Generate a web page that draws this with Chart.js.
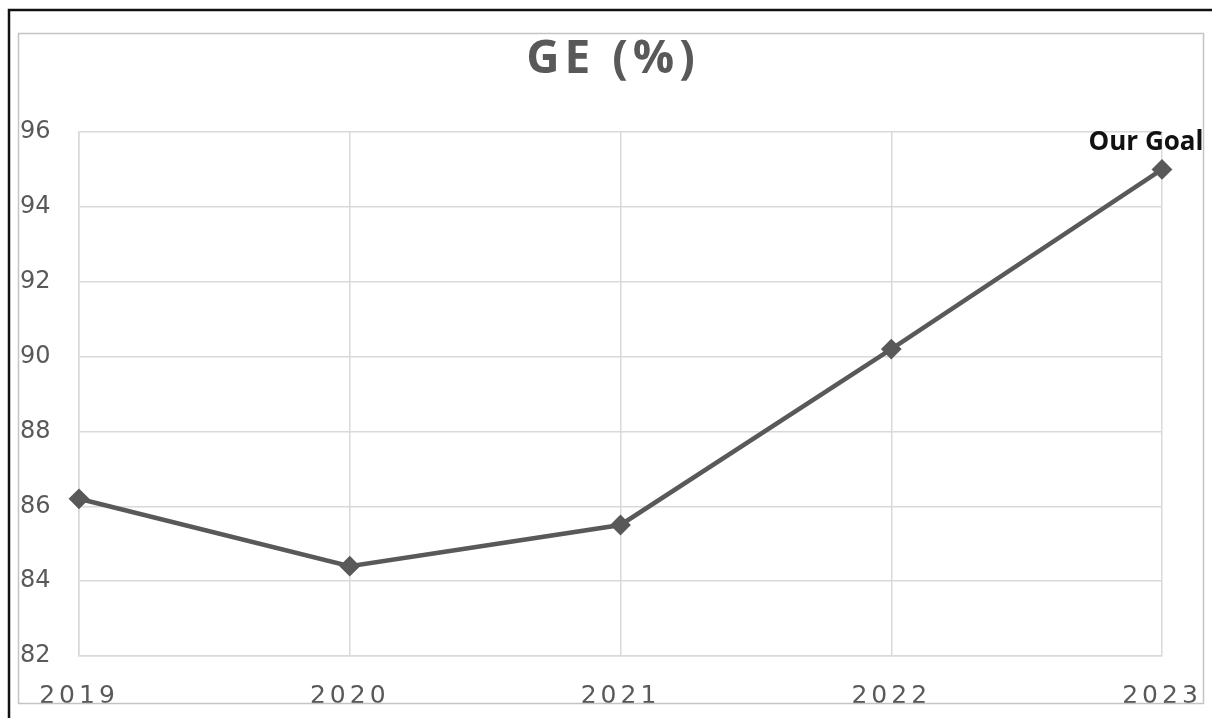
<!DOCTYPE html>
<html>
<head>
<meta charset="utf-8">
<title>GE (%)</title>
<script src="https://cdn.jsdelivr.net/npm/chart.js@4/dist/chart.umd.min.js"></script>
<style>
  html, body { margin: 0; padding: 0; background: #fff; }
  #wrap { position: relative; width: 1212px; height: 718px; }
</style>
</head>
<body>
<div id="wrap"><canvas id="geChart" width="1212" height="718"></canvas></div>
<script>
// ===== données =====
const years = ["2019", "2020", "2021", "2022", "2023"];
const geValues = [86.2, 84.4, 85.5, 90.2, 95.0];
const goalLabel = "Our Goal";
const chartTitle = "GE (%)";
const yMin = 82, yMax = 96, yStep = 2;

const GRAY = "#595959";
const GRID = "#d9d9d9";

// cadre, titre et étiquette "Our Goal"
const decorPlugin = {
  id: "decor",
  beforeDraw(chart) {
    chart.ctx.letterSpacing = "0px";
  },
  // les étiquettes de l'axe x (ticks.z: 1) sont dessinées après les données -> espacement
  afterDatasetsDraw(chart) {
    chart.ctx.letterSpacing = "4px";
  },
  afterDraw(chart) {
    const ctx = chart.ctx;
    ctx.letterSpacing = "0px";
    ctx.save();

    // bordure grise intérieure
    ctx.strokeStyle = "#c4c4c4";
    ctx.lineWidth = 1.5;
    ctx.strokeRect(18.5, 33.5, 1185, 670);

    // bordure noire (haut + gauche)
    ctx.strokeStyle = "#111";
    ctx.lineWidth = 2.5;
    ctx.beginPath();
    ctx.moveTo(9, 718);
    ctx.lineTo(9, 10);
    ctx.lineTo(1212, 10);
    ctx.stroke();

    // titre
    ctx.letterSpacing = "5px";
    ctx.fillStyle = GRAY;
    ctx.font = 'bold 46px "Open Sans"';
    ctx.textAlign = "center";
    ctx.textBaseline = "alphabetic";
    ctx.fillText(chartTitle, 613, 73);

    // étiquette sur le dernier point
    const meta = chart.getDatasetMeta(0);
    const last = meta.data[meta.data.length - 1];
    ctx.letterSpacing = "0px";
    ctx.fillStyle = "#111";
    ctx.font = 'bold 26px "Open Sans"';
    ctx.fillText(goalLabel, last.x - 16, last.y - 19);
    ctx.restore();
  }
};

const ctx = document.getElementById("geChart").getContext("2d");
new Chart(ctx, {
  type: "line",
  data: {
    labels: years,
    datasets: [{
      data: geValues,
      borderColor: GRAY,
      borderWidth: 4.5,
      pointStyle: "rectRot",
      pointRadius: 9,
      pointBorderWidth: 2,
      pointBackgroundColor: GRAY,
      pointBorderColor: GRAY,
      tension: 0,
      clip: false
    }]
  },
  options: {
    responsive: false,
    animation: false,
    devicePixelRatio: 1,
    layout: { padding: { left: 20, top: 132, right: 50, bottom: 0 } },
    plugins: {
      legend: { display: false },
      title: { display: false },
      tooltip: { enabled: false }
    },
    scales: {
      x: {
        offset: false,
        grid: { color: GRID, lineWidth: 1.5, drawTicks: false },
        border: { color: GRID, width: 1.5 },
        ticks: {
          z: 1,
          color: GRAY,
          font: { family: "DejaVu Sans", size: 25 },
          padding: 25,
          maxRotation: 0
        },
        afterFit(scale) {
          scale.height = 62;
          scale.paddingLeft = 0;
          scale.paddingRight = 0;
        }
      },
      y: {
        min: yMin,
        max: yMax,
        grid: { color: GRID, lineWidth: 1.5, drawTicks: false },
        border: { color: GRID, width: 1.5 },
        ticks: {
          stepSize: yStep,
          color: GRAY,
          crossAlign: "far",
          font: { family: "DejaVu Sans", size: 24 }
        },
        afterFit(scale) { scale.width = 59; }
      }
    }
  },
  plugins: [decorPlugin]
});
</script>
</body>
</html>
